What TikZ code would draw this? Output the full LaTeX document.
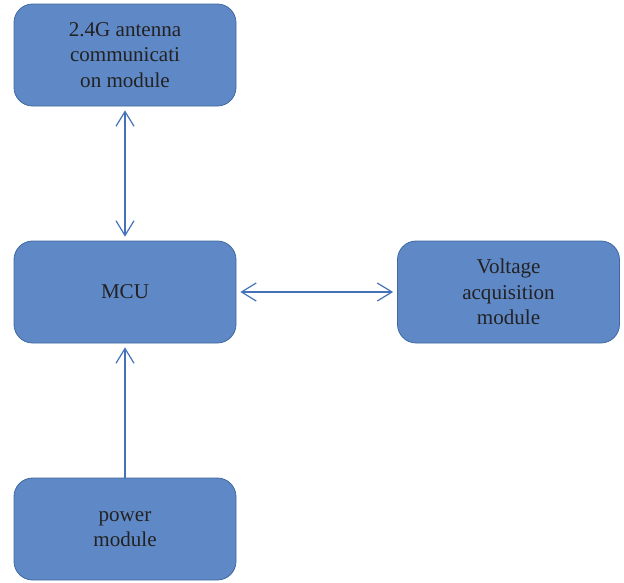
\documentclass[tikz,border=0pt]{standalone}
\usepackage{fontspec}
\setmainfont{Liberation Serif}
\usetikzlibrary{arrows.meta}
\definecolor{boxfill}{HTML}{5F88C6}
\definecolor{boxline}{HTML}{41699E}
\definecolor{linkcol}{HTML}{4472B8}
\definecolor{txt}{HTML}{222222}
\begin{document}
\begin{tikzpicture}[x=0.75pt,y=-0.75pt,
  block/.style={draw=boxline, line width=0.6pt, fill=boxfill, rounded corners=14pt,
    minimum width=166.5pt, minimum height=76.5pt, inner sep=0pt,
    align=center, text=txt, font=\fontsize{15.8}{19}\selectfont},
  link/.style={draw=linkcol, line width=0.9pt,
    arrows={Straight Barb[length=11pt,width=13.5pt,line width=0.9pt]-Straight Barb[length=11pt,width=13.5pt,line width=0.9pt]}},
  uplink/.style={draw=linkcol, line width=0.9pt,
    arrows={-Straight Barb[length=11pt,width=13.5pt,line width=0.9pt]}}]
\useasboundingbox (0,0) rectangle (624,582);
\node[block] (ant) at (125,55) {2.4G antenna\\communicati\\on module};
\node[block] (mcu) at (125,292) {MCU};
\node[block] (volt) at (508.5,292) {Voltage\\acquisition\\module};
\node[block] (pow) at (125,529) {power\\module};
\draw[link, shorten <=3pt, shorten >=3pt] (ant.south) -- (mcu.north);
\draw[link, shorten <=3pt, shorten >=3pt] (mcu.east) -- (volt.west);
\draw[uplink, shorten >=3pt] (pow.north) -- (mcu.south);
\end{tikzpicture}
\end{document}
